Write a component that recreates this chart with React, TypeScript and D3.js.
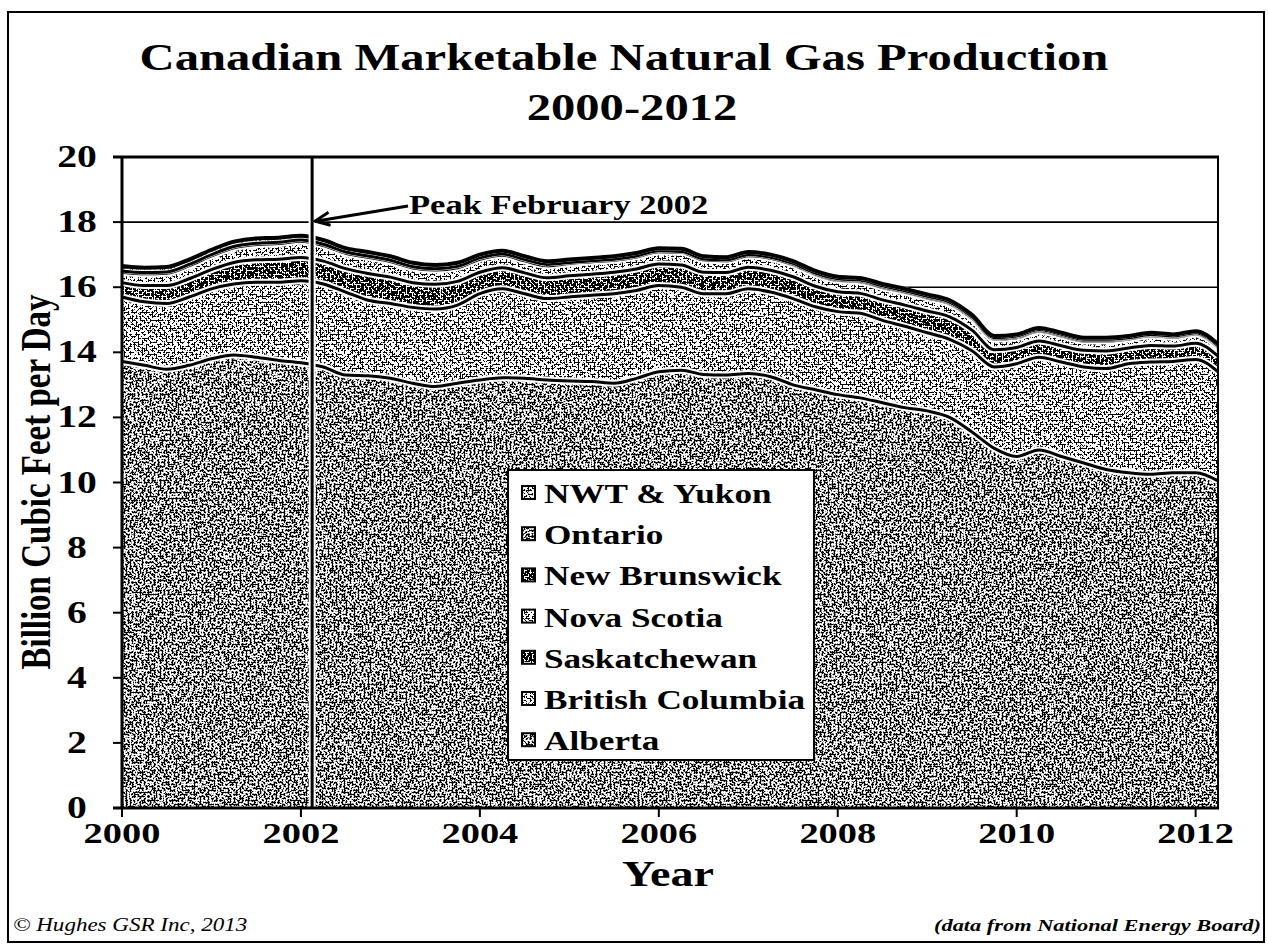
import React, { useRef, useEffect } from "react";
import * as d3 from "d3";

// quarterly points, Jan 2000 .. Apr 2012
const quarters = [
  2000, 2000.25, 2000.5, 2000.75, 2001, 2001.25, 2001.5, 2001.75, 2002, 2002.25,
  2002.5, 2002.75, 2003, 2003.25, 2003.5, 2003.75, 2004, 2004.25, 2004.5, 2004.75,
  2005, 2005.25, 2005.5, 2005.75, 2006, 2006.25, 2006.5, 2006.75, 2007, 2007.25,
  2007.5, 2007.75, 2008, 2008.25, 2008.5, 2008.75, 2009, 2009.25, 2009.5, 2009.75,
  2010, 2010.25, 2010.5, 2010.75, 2011, 2011.25, 2011.5, 2011.75, 2012, 2012.25,
];

// Bcf/d by province
const alberta = [
  13.72, 13.6, 13.48, 13.6, 13.8, 13.92, 13.85, 13.75, 13.68, 13.55,
  13.3, 13.28, 13.2, 13.05, 12.95, 13.05, 13.15, 13.22, 13.2, 13.15,
  13.12, 13.1, 13.05, 13.2, 13.4, 13.45, 13.32, 13.3, 13.35, 13.25,
  13.0, 12.85, 12.7, 12.6, 12.45, 12.3, 12.2, 12.0, 11.55, 11.05,
  10.8, 11.0, 10.8, 10.6, 10.4, 10.3, 10.25, 10.3, 10.3, 10.05,
];
const britishColumbia = [
  1.98, 1.95, 2.02, 2.1, 2.15, 2.18, 2.3, 2.4, 2.52, 2.55,
  2.55, 2.32, 2.3, 2.33, 2.38, 2.4, 2.65, 2.73, 2.6, 2.5,
  2.58, 2.65, 2.75, 2.7, 2.65, 2.55, 2.48, 2.5, 2.6, 2.6,
  2.65, 2.55, 2.55, 2.6, 2.53, 2.5, 2.4, 2.4, 2.5, 2.5,
  2.85, 2.85, 2.9, 2.95, 3.1, 3.35, 3.45, 3.42, 3.48, 3.35,
];
const saskatchewan = [
  0.44, 0.5, 0.55, 0.56, 0.59, 0.66, 0.69, 0.71, 0.71, 0.7,
  0.72, 0.82, 0.81, 0.76, 0.76, 0.73, 0.66, 0.65, 0.64, 0.64,
  0.65, 0.65, 0.66, 0.66, 0.66, 0.68, 0.66, 0.65, 0.66, 0.67,
  0.67, 0.63, 0.61, 0.61, 0.63, 0.65, 0.67, 0.69, 0.63, 0.53,
  0.5, 0.5, 0.5, 0.51, 0.54, 0.48, 0.51, 0.47, 0.5, 0.48,
];
const novaScotia = [
  0.32, 0.36, 0.38, 0.4, 0.42, 0.45, 0.47, 0.48, 0.5, 0.48,
  0.47, 0.5, 0.48, 0.45, 0.44, 0.42, 0.4, 0.38, 0.37, 0.37,
  0.38, 0.38, 0.37, 0.37, 0.38, 0.39, 0.38, 0.36, 0.36, 0.37,
  0.37, 0.36, 0.35, 0.36, 0.38, 0.39, 0.4, 0.4, 0.36, 0.32,
  0.3, 0.3, 0.3, 0.29, 0.31, 0.28, 0.3, 0.27, 0.28, 0.28,
];
const newBrunswick = [
  0, 0, 0, 0, 0, 0, 0, 0, 0, 0,
  0, 0, 0, 0, 0, 0, 0, 0, 0, 0,
  0, 0, 0, 0, 0, 0, 0, 0, 0, 0,
  0.01, 0.01, 0.02, 0.02, 0.02, 0.02, 0.02, 0.02, 0.02, 0.02,
  0.02, 0.02, 0.02, 0.02, 0.02, 0.02, 0.02, 0.02, 0.02, 0.02,
];
const ontario = [
  0.04, 0.04, 0.04, 0.04, 0.04, 0.04, 0.04, 0.04, 0.04, 0.04,
  0.04, 0.04, 0.04, 0.04, 0.04, 0.04, 0.04, 0.04, 0.04, 0.04,
  0.03, 0.03, 0.03, 0.03, 0.03, 0.03, 0.03, 0.03, 0.03, 0.03,
  0.03, 0.03, 0.03, 0.03, 0.03, 0.03, 0.03, 0.03, 0.03, 0.03,
  0.03, 0.03, 0.03, 0.03, 0.03, 0.02, 0.02, 0.02, 0.02, 0.02,
];
const nwtYukon = [
  0.15, 0.15, 0.15, 0.15, 0.15, 0.15, 0.15, 0.14, 0.13, 0.13,
  0.12, 0.12, 0.12, 0.12, 0.11, 0.11, 0.1, 0.1, 0.1, 0.1,
  0.09, 0.09, 0.09, 0.09, 0.08, 0.08, 0.08, 0.08, 0.08, 0.08,
  0.07, 0.07, 0.06, 0.06, 0.06, 0.06, 0.06, 0.06, 0.06, 0.05,
  0.05, 0.05, 0.05, 0.05, 0.05, 0.05, 0.05, 0.05, 0.05, 0.05,
];

const seriesNames = ["Alberta", "British Columbia", "Saskatchewan", "Nova Scotia", "New Brunswick", "Ontario", "NWT & Yukon"];
const seriesValues = [alberta, britishColumbia, saskatchewan, novaScotia, newBrunswick, ontario, nwtYukon];
const legendOrder = ["NWT & Yukon", "Ontario", "New Brunswick", "Nova Scotia", "Saskatchewan", "British Columbia", "Alberta"];
// noise threshold per series (lower = darker stipple)
const stippleThreshold = [0.496, 0.502, 0.47, 0.505, 0.465, 0.495, 0.5];

const yTicks = [0, 2, 4, 6, 8, 10, 12, 14, 16, 18, 20];
const xTicks = [2000, 2002, 2004, 2006, 2008, 2010, 2012];
const peakDate = 2002.125;

// the scanned original is stretched sideways, so the type is too
const SX = 1.28;

const App = () => {
  const svgRef = useRef(null);

  useEffect(() => {
    const width = 1268;
    const height = 945;
    const font = "'Liberation Serif', 'Times New Roman', serif";

    const svg = d3.select(svgRef.current)
      .attr("width", width)
      .attr("height", height)
      .style("position", "absolute")
      .style("left", "0px")
      .style("top", "0px");

    svg.selectAll("*").remove();

    const label = (g: any, tx: number, ty: number, s: string, size: number, anchor = "start", italic = false, bold = true) =>
      g.append("text")
        .attr("transform", `translate(${tx},${ty}) scale(${SX},1)`)
        .attr("text-anchor", anchor)
        .attr("font-family", font)
        .attr("font-weight", bold ? "bold" : "normal")
        .attr("font-style", italic ? "italic" : "normal")
        .attr("font-size", size)
        .text(s);

    const x = d3.scaleLinear().domain([2000, 2012.25]).range([122, 1218]);
    const y = d3.scaleLinear().domain([0, 20]).range([808, 157]);

    const rows = quarters.map((q, i) => {
      const r: any = { q };
      seriesNames.forEach((n, k) => { r[n] = seriesValues[k][i]; });
      return r;
    });
    const stacked = d3.stack().keys(seriesNames)(rows);

    // stipple filters (black dots on white) to mimic the pattern fills
    const defs = svg.append("defs");
    seriesNames.forEach((n, k) => {
      const f = defs.append("filter")
        .attr("id", `stip${k}`)
        .attr("filterUnits", "userSpaceOnUse")
        .attr("x", 0).attr("y", 0).attr("width", width).attr("height", height)
        .attr("color-interpolation-filters", "sRGB");
      f.append("feFlood").attr("flood-color", "#fff").attr("result", "white");
      f.append("feComposite").attr("in", "white").attr("in2", "SourceAlpha").attr("operator", "in").attr("result", "bg");
      f.append("feTurbulence").attr("type", "fractalNoise").attr("baseFrequency", 0.5)
        .attr("numOctaves", 2).attr("seed", k * 7 + 3).attr("result", "noise");
      f.append("feColorMatrix").attr("in", "noise").attr("type", "matrix")
        .attr("values", "0 0 0 0 0  0 0 0 0 0  0 0 0 0 0  1 0 0 0 0").attr("result", "ra");
      const ct = f.append("feComponentTransfer").attr("in", "ra").attr("result", "dots");
      ct.append("feFuncA").attr("type", "linear").attr("slope", 60).attr("intercept", -60 * stippleThreshold[k]);
      f.append("feComposite").attr("in", "dots").attr("in2", "SourceAlpha").attr("operator", "in").attr("result", "dd");
      const m = f.append("feMerge");
      m.append("feMergeNode").attr("in", "bg");
      m.append("feMergeNode").attr("in", "dd");
    });

    svg.append("rect").attr("width", width).attr("height", height).attr("fill", "#fff");

    // outer frame
    svg.append("rect")
      .attr("x", 8).attr("y", 12).attr("width", 1256).attr("height", 930)
      .attr("fill", "none").attr("stroke", "#000").attr("stroke-width", 2);

    // title
    label(svg, 624, 70, "Canadian Marketable Natural Gas Production", 38, "middle");
    label(svg, 632, 120, "2000-2012", 38, "middle");

    // gridlines
    svg.append("g")
      .selectAll("line")
      .data(yTicks.filter(t => t > 0 && t < 20))
      .enter()
      .append("line")
      .attr("x1", x(2000)).attr("x2", 1218)
      .attr("y1", d => y(d)).attr("y2", d => y(d))
      .attr("stroke", "#000").attr("stroke-width", 1.6);

    const area = d3.area()
      .x((d: any) => x(d.data.q))
      .y0((d: any) => y(d[0]))
      .y1((d: any) => y(d[1]))
      .curve(d3.curveMonotoneX);

    const topLine = d3.line()
      .x((d: any) => x(d.data.q))
      .y((d: any) => y(d[1]))
      .curve(d3.curveMonotoneX);

    const areas = svg.append("g");
    stacked.forEach((s, k) => {
      areas.append("path")
        .datum(s)
        .attr("d", area as any)
        .attr("fill", "#000")
        .attr("filter", `url(#stip${k})`);
    });

    const lines = svg.append("g");
    stacked.forEach((s, k) => {
      lines.append("path")
        .datum(s)
        .attr("d", topLine as any)
        .attr("fill", "none")
        .attr("stroke", "#fff")
        .attr("stroke-width", k >= 4 ? 4 : 7);
      lines.append("path")
        .datum(s)
        .attr("d", topLine as any)
        .attr("fill", "none")
        .attr("stroke", "#000")
        .attr("stroke-width", k === seriesNames.length - 1 ? 4 : 3);
    });

    // peak marker
    svg.append("line")
      .attr("x1", x(peakDate)).attr("x2", x(peakDate))
      .attr("y1", y(20)).attr("y2", y(0))
      .attr("stroke", "#fff").attr("stroke-width", 7);
    svg.append("line")
      .attr("x1", x(peakDate)).attr("x2", x(peakDate))
      .attr("y1", y(20)).attr("y2", y(0))
      .attr("stroke", "#000").attr("stroke-width", 3);

    // axes frame
    const frame = svg.append("g").attr("stroke", "#000");
    frame.append("line").attr("x1", 122).attr("x2", 122).attr("y1", y(20)).attr("y2", y(0)).attr("stroke-width", 3);
    frame.append("line").attr("x1", 113).attr("x2", 1219).attr("y1", y(20)).attr("y2", y(20)).attr("stroke-width", 3);
    frame.append("line").attr("x1", 1218).attr("x2", 1218).attr("y1", y(20)).attr("y2", y(0)).attr("stroke-width", 2);
    frame.append("line").attr("x1", 113).attr("x2", 1219).attr("y1", y(0)).attr("y2", y(0)).attr("stroke-width", 3);

    // y ticks + labels
    const yAxis = svg.append("g");
    yTicks.forEach(t => {
      yAxis.append("line")
        .attr("x1", 113).attr("x2", 122)
        .attr("y1", y(t)).attr("y2", y(t))
        .attr("stroke", "#000").attr("stroke-width", 2);
      label(yAxis, 77, y(t) + 10, String(t), 31, "middle");
    });

    // x ticks + labels
    const xAxis = svg.append("g");
    xTicks.forEach(t => {
      xAxis.append("line")
        .attr("x1", x(t)).attr("x2", x(t))
        .attr("y1", y(0)).attr("y2", y(0) + 9)
        .attr("stroke", "#000").attr("stroke-width", 2);
      label(xAxis, x(t), 843, String(t), 30, "middle");
    });

    label(svg, 668, 886, "Year", 36, "middle");

    svg.append("text")
      .attr("transform", `translate(50,482) scale(${SX},1) rotate(-90)`)
      .attr("text-anchor", "middle")
      .attr("font-family", font).attr("font-weight", "bold").attr("font-size", 33)
      .text("Billion Cubic Feet per Day");

    // annotation
    const tipX = x(peakDate) + 3;
    const tipY = y(18) - 1;
    const tailX = 408;
    const tailY = 206;
    svg.append("line")
      .attr("x1", tailX).attr("y1", tailY).attr("x2", tipX + 2).attr("y2", tipY)
      .attr("stroke", "#000").attr("stroke-width", 3);
    const ang = Math.atan2(tailY - tipY, tailX - tipX);
    const head = [-0.42, 0.42].map(a => [tipX + 16 * Math.cos(ang + a), tipY + 16 * Math.sin(ang + a)]);
    svg.append("path")
      .attr("d", `M${head[0][0]},${head[0][1]}L${tipX},${tipY}L${head[1][0]},${head[1][1]}`)
      .attr("fill", "none").attr("stroke", "#000").attr("stroke-width", 3);
    label(svg, 409, 214, "Peak February 2002", 27);

    // legend
    const lg = svg.append("g");
    lg.append("rect")
      .attr("x", 508).attr("y", 470).attr("width", 306).attr("height", 290)
      .attr("fill", "#fff").attr("stroke", "#000").attr("stroke-width", 2);
    legendOrder.forEach((name, i) => {
      const k = seriesNames.indexOf(name);
      const cy = 493 + i * 41.2;
      lg.append("rect")
        .attr("x", 522).attr("y", cy - 7).attr("width", 13).attr("height", 13)
        .attr("fill", "#000").attr("filter", `url(#stip${k})`);
      lg.append("rect")
        .attr("x", 522).attr("y", cy - 7).attr("width", 13).attr("height", 13)
        .attr("fill", "none").attr("stroke", "#000").attr("stroke-width", 2);
      label(lg, 544, cy + 10, name, 27.5);
    });

    // footnotes
    label(svg, 13, 931, "© Hughes GSR Inc, 2013", 18, "start", true, false);
    label(svg, 1261, 931, "(data from National Energy Board)", 17.5, "end", true, true);
  }, []);

  return <svg ref={svgRef}></svg>;
};

export default App;
